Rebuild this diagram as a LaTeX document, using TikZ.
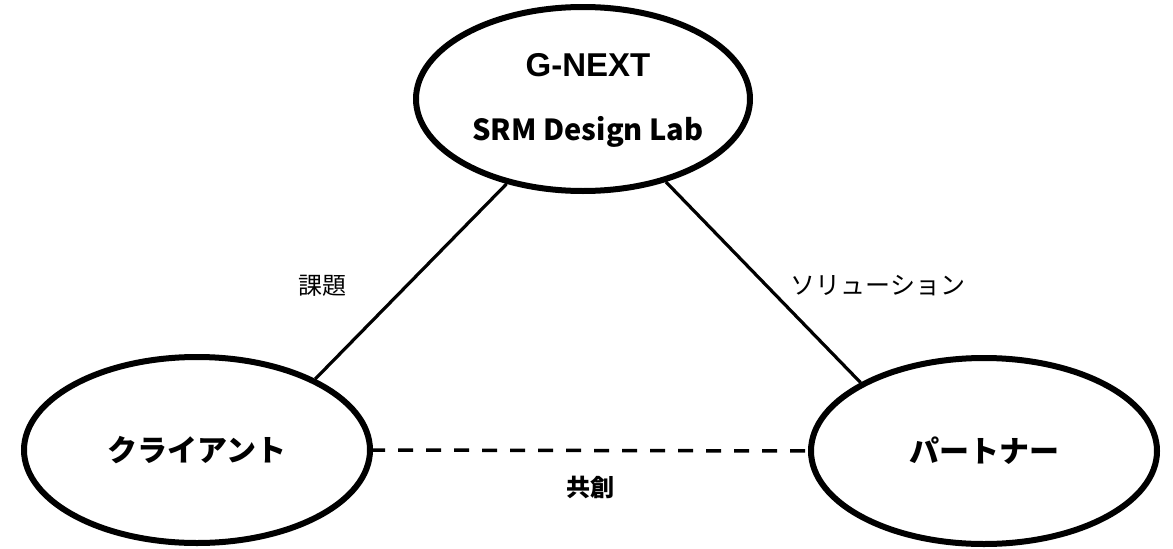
\documentclass[tikz,border=0pt]{standalone}
\usepackage{fontspec}
\setmainfont{Liberation Sans}
\newfontfamily\jp{Noto Sans CJK JP}
\usetikzlibrary{shapes.geometric}
\begin{document}
\begin{tikzpicture}[x=1pt,y=-1pt,
  bubble/.style={draw=black,line width=6pt,ellipse,inner sep=0pt,fill=white,
    minimum width=346pt,minimum height=186pt},
  link/.style={draw=black,line width=3.2pt},
  dashlink/.style={draw=black,line width=3.5pt,dash pattern=on 15pt off 13pt,dash phase=3pt},
  lbl/.style={font=\jp\fontsize{24}{24}\selectfont,inner sep=0pt}]
\useasboundingbox (0,0) rectangle (1173,549);
\node[bubble,minimum width=334pt,minimum height=184pt] (g) at (583,99) {};
\node[font=\bfseries\fontsize{33}{33}\selectfont,inner sep=0pt] (gt) at (588,65) {G-NEXT};
\node[font=\jp\bfseries\fontsize{29}{29}\selectfont,inner sep=0pt,anchor=base] (gs) at (588,140) {SRM Design Lab};
\node[bubble] (c) at (197,450) {\jp\bfseries\fontsize{30}{30}\selectfont クライアント};
\node[bubble] (p) at (984,451) {\jp\bfseries\fontsize{30}{30}\selectfont パートナー};
\draw[link] (g.228) -- (c.31);
\draw[link] (g.-45) -- (p.151);
\draw[dashlink] (c.east) -- (p.west);
\node[lbl] (l1) at (322,286) {課題};
\node[lbl,font=\jp\fontsize{25}{25}\selectfont] (l2) at (878,286) {ソリューション};
\node[lbl,font=\jp\bfseries\fontsize{24}{24}\selectfont] (l3) at (590,487) {共創};
\end{tikzpicture}
\end{document}
